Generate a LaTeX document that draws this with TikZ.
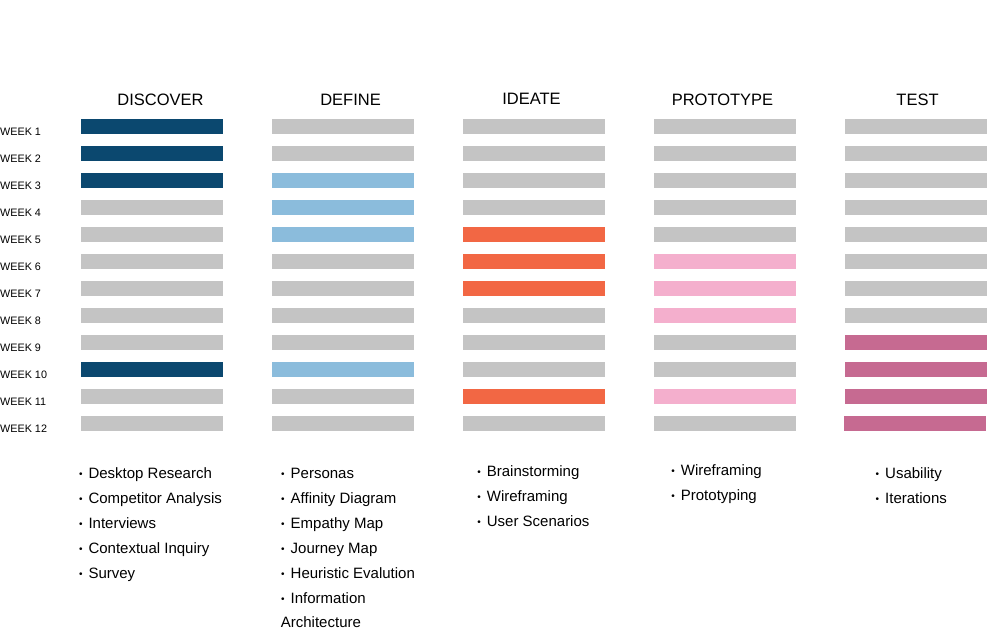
\documentclass[tikz,border=0pt]{standalone}
\usepackage{fontspec}
\setmainfont{Liberation Sans}
\definecolor{barGray}{HTML}{C4C4C4}
\definecolor{navy}{HTML}{0B486F}
\definecolor{skyBlue}{HTML}{8BBCDC}
\definecolor{coral}{HTML}{F26744}
\definecolor{softPink}{HTML}{F4AFCD}
\definecolor{mauve}{HTML}{C66A91}
\newcommand\bul{\makebox[9.5pt][l]{\raisebox{1.5pt}{\fontsize{10pt}{10pt}\selectfont\textbullet}}}
\begin{document}
\begin{tikzpicture}[x=1pt,y=-1pt,
  bar/.style={rectangle, draw=none, fill=barGray, minimum width=142pt, minimum height=15pt, inner sep=0pt, anchor=north west},
  head/.style={font=\fontsize{16.5pt}{18pt}\selectfont, anchor=base, inner sep=0pt},
  week/.style={font=\fontsize{10.8pt}{12pt}\selectfont, anchor=base west, inner sep=0pt},
  item/.style={font=\fontsize{15pt}{18pt}\selectfont, anchor=base west, inner sep=0pt},
  hl 1-1/.style={fill=navy}, hl 1-2/.style={fill=navy}, hl 1-3/.style={fill=navy}, hl 1-10/.style={fill=navy},
  hl 2-3/.style={fill=skyBlue}, hl 2-4/.style={fill=skyBlue}, hl 2-5/.style={fill=skyBlue}, hl 2-10/.style={fill=skyBlue},
  hl 3-5/.style={fill=coral}, hl 3-6/.style={fill=coral}, hl 3-7/.style={fill=coral}, hl 3-11/.style={fill=coral},
  hl 4-6/.style={fill=softPink}, hl 4-7/.style={fill=softPink}, hl 4-8/.style={fill=softPink}, hl 4-11/.style={fill=softPink},
  hl 5-9/.style={fill=mauve}, hl 5-10/.style={fill=mauve}, hl 5-11/.style={fill=mauve}, hl 5-12/.style={fill=mauve, xshift=-1pt},
 ]
\useasboundingbox (0,0) rectangle (988,630);

% bars
\foreach \c/\x in {1/81,2/272,3/463,4/654,5/845}
  \foreach \r in {1,...,12}
    \node[bar, hl \c-\r/.try] (b\c-\r) at (\x, {119+27*(\r-1)}) {};

% week labels
\foreach \r in {1,...,12}
  \node[week] (w\r) at (0, {135.5+27*(\r-1)}) {WEEK \r};

% headers
\node[head] (h1) at (160.5,105.7) {DISCOVER};
\node[head] (h2) at (350.5,105.7) {DEFINE};
\node[head] (h3) at (531.5,104) {IDEATE};
\node[head] (h4) at (722.5,105.7) {PROTOTYPE};
\node[head] (h5) at (917.5,105.7) {TEST};

% lists
\foreach \t [count=\k] in {Desktop Research, Competitor Analysis, Interviews, Contextual Inquiry, Survey}
  \node[item] (i1-\k) at (78.8, {478.8+25*(\k-1)}) {\bul\t};
\foreach \t [count=\k] in {Personas, Affinity Diagram, Empathy Map, Journey Map, Heuristic Evalution, Information}
  \node[item] (i2-\k) at (281, {478.5+25*(\k-1)}) {\bul\t};
\node[item] (i2-7) at (280.7,627) {Architecture};
\foreach \t [count=\k] in {Brainstorming, Wireframing, User Scenarios}
  \node[item] (i3-\k) at (477.2, {476.5+25*(\k-1)}) {\bul\t};
\foreach \t [count=\k] in {Wireframing, Prototyping}
  \node[item] (i4-\k) at (671.2, {475.7+25*(\k-1)}) {\bul\t};
\foreach \t [count=\k] in {Usability, Iterations}
  \node[item] (i5-\k) at (875.5, {478.8+25*(\k-1)}) {\bul\t};
\end{tikzpicture}
\end{document}
